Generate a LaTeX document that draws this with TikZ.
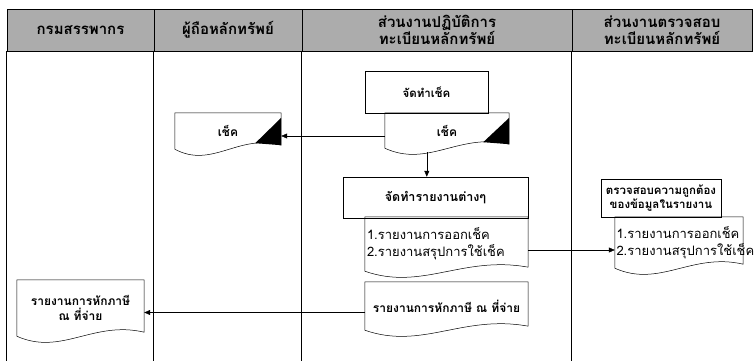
\documentclass[tikz,border=0pt]{standalone}
\usepackage{fontspec}
\setmainfont[Script=Thai]{Loma}
\usetikzlibrary{calc,arrows.meta}
\definecolor{hdrgray}{RGB}{172,172,172}
\newcommand\docoutline[1]{%
  \draw[docline] (#1.south west) -- (#1.north west) -- (#1.north east) -- ($(#1.south east)+(0,-4)$)
    .. controls ($(#1.south west)!0.6!(#1.south east)+(0,-16)$) and ($(#1.south west)!0.35!(#1.south east)+(0,20)$) .. (#1.south west) -- cycle;}
\newcommand\doccorner[1]{%
  \fill ($(#1.north east)+(0,5)$) -- ($(#1.south east)+(0,-4)$) -- ($(#1.south east)+(-26,-6)$) -- cycle;}
\begin{document}
\begin{tikzpicture}[x=1pt,y=-1pt,
  hdr/.style={draw, fill=hdrgray, inner sep=0pt, align=center, minimum height=42pt,
    font=\bfseries\fontsize{15}{17}\selectfont},
  proc/.style={draw, line width=0.5pt, inner sep=0pt, align=center,
    font=\bfseries\fontsize{12.5}{15}\selectfont},
  doc/.style={draw=none, inner sep=0pt, align=center,
    font=\bfseries\fontsize{12}{15}\selectfont},
  listtext/.style={font=\fontsize{13}{17}\selectfont, align=left},
  docline/.style={line width=0.5pt},
  lane/.style={line width=0.7pt},
  conn/.style={line width=0.5pt, -{Triangle[length=6pt,width=5pt]}}]
\useasboundingbox (0,0) rectangle (755,361);
% header
\node[hdr, minimum width=147pt] (h1) at (80.5,30) {กรมสรรพากร};
\node[hdr, minimum width=148pt] (h2) at (228,30) {ผู้ถือหลักทรัพย์};
\node[hdr, minimum width=270pt] (h3) at (437,30) {ส่วนงานปฏิบัติการ\\ทะเบียนหลักทรัพย์};
\node[hdr, minimum width=180pt] (h4) at (662,30) {ส่วนงานตรวจสอบ\\ทะเบียนหลักทรัพย์};
% lane lines
\draw[lane] (h1.south west) -- ++(0,310);
\draw[lane] (h2.south west) -- ++(0,310);
\draw[lane] (h3.south west) -- ++(0,310);
\draw[lane] (h4.south west) -- ++(0,310);
% nodes
\node[proc, minimum width=123pt, minimum height=42pt, font=\bfseries\fontsize{11.5}{15}\selectfont] (mkc) at (426.5,92) {จัดทำเช็ค};
\node[doc, minimum width=124pt, minimum height=35pt] (chkR) at (447,130.5) {เช็ค};
\node[doc, minimum width=106pt, minimum height=36pt] (chkL) at (228,131) {เช็ค};
\node[proc, minimum width=185pt, minimum height=41pt] (rep) at (435.5,197.5) {จัดทำรายงานต่างๆ};
\node[doc, minimum width=163pt, minimum height=54pt, listtext, text width=159pt] (lst) at (446.5,244)
  {1.รายงานการออกเช็ค\\2.รายงานสรุปการใช้เช็ค};
\node[doc, minimum width=163pt, minimum height=48pt] (tax) at (446.5,306) {รายงานการหักภาษี ณ ที่จ่าย};
\node[doc, minimum width=127pt, minimum height=56pt] (taxL) at (80.5,308) {รายงานการหักภาษี\\ณ ที่จ่าย};
\node[proc, minimum width=120pt, minimum height=38pt, font=\bfseries\fontsize{11.5}{14.5}\selectfont] (chk) at (661,198) {ตรวจสอบความถูกต้อง\\ของข้อมูลในรายงาน};
\node[doc, minimum width=128pt, minimum height=51pt, listtext, text width=125pt] (lstR) at (679,242.5)
  {1.รายงานการออกเช็ค\\2.รายงานสรุปการใช้เช็ค};
% document outlines
\docoutline{chkR}\doccorner{chkR}
\docoutline{chkL}\doccorner{chkL}
\docoutline{lst}
\docoutline{tax}
\docoutline{taxL}
\docoutline{lstR}
% connectors
\draw[conn] ([yshift=-5.5pt]chkR.west) -- ([yshift=-5.5pt]chkR.west -| chkL.east);
\draw[conn] ($(chkR.south west)+(42,4)$) coordinate (d1) -- (d1 |- rep.north);
\draw[conn] ([yshift=-6pt]lst.east) -- ([yshift=-6pt]lst.east -| lstR.west);
\draw[conn] ([yshift=-6.5pt]tax.west) -- ([yshift=-6.5pt]tax.west -| taxL.east);
\end{tikzpicture}
\end{document}
